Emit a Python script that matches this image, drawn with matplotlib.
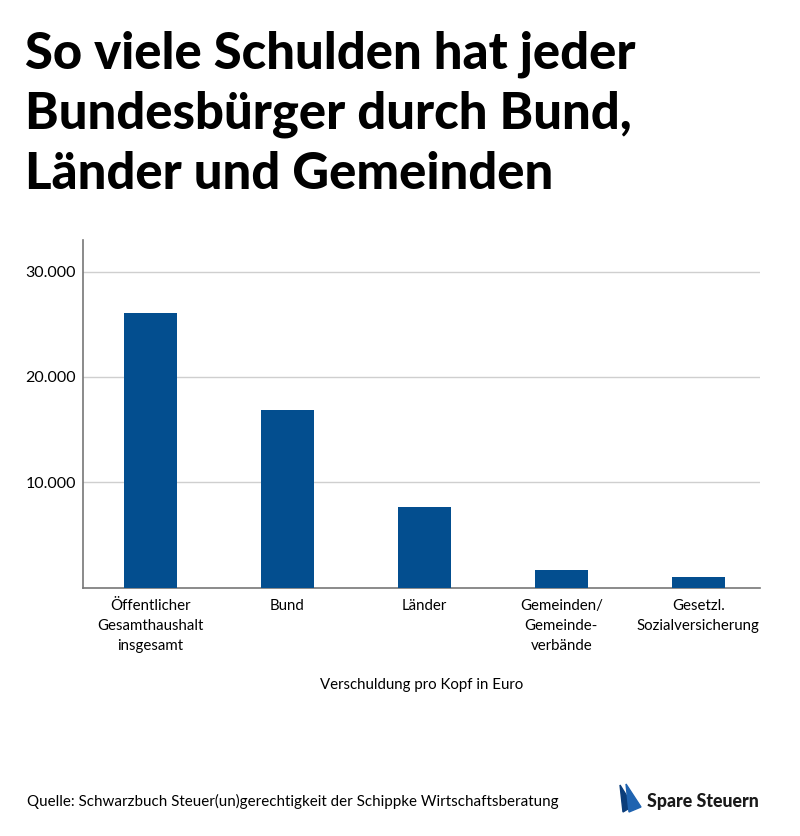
import matplotlib
matplotlib.use("Agg")
import matplotlib.pyplot as plt
from matplotlib.patches import Polygon

# Daten (Verschuldung pro Kopf in Euro)
kategorien = ["Öffentlicher\nGesamthaushalt\ninsgesamt", "Bund", "Länder",
              "Gemeinden/\nGemeinde-\nverbände", "Gesetzl.\nSozialversicherung"]
werte = [26100, 16850, 7650, 1700, 1000]
y_ticks = [10000, 20000, 30000]
y_labels = ["10.000", "20.000", "30.000"]

blau = "#034e8f"
plt.rcParams['font.family'] = ['Lato', 'DejaVu Sans']

fig = plt.figure(figsize=(8, 8.36), dpi=100)
ax = fig.add_axes([0.104, 0.297, 0.846, 0.416])

x = range(len(werte))
ax.bar(x, werte, width=0.39, color=blau, zorder=3)

ax.set_xlim(-0.49, 4.45)
ax.set_ylim(0, 33000)
ax.set_yticks(y_ticks)
ax.set_yticklabels(y_labels, fontsize=11.5)
ax.set_xticks(list(x))
ax.set_xticklabels(kategorien, fontsize=10.8, linespacing=1.55)
ax.tick_params(length=0, pad=8)
ax.tick_params(axis='y', pad=5)
ax.yaxis.grid(True, color="#cfcfcf", linewidth=1, zorder=0)

for s in ["top", "right"]:
    ax.spines[s].set_visible(False)
for s in ["left", "bottom"]:
    ax.spines[s].set_color("#777777")
    ax.spines[s].set_linewidth(1.2)

ax.set_xlabel("Verschuldung pro Kopf in Euro", fontsize=10.8, labelpad=18)

# Titel
titel = ["So viele Schulden hat jeder", "Bundesbürger durch Bund,", "Länder und Gemeinden"]
for i, zeile in enumerate(titel):
    fig.text(25 / 800, 1 - (68 + 60.5 * i) / 836, zeile, fontsize=36.5,
             fontweight="black", ha="left", va="baseline")

# Quelle
fig.text(27 / 800, 1 - 806 / 836,
         "Quelle: Schwarzbuch Steuer(un)gerechtigkeit der Schippke Wirtschaftsberatung",
         fontsize=10.9, ha="left", va="baseline")

# Logo
segel1 = [(620, 785), (633, 806), (623, 812)]
segel2 = [(626, 784), (641, 807), (629, 812)]
for pts, c in [(segel1, "#0b3d7a"), (segel2, "#1f63b0")]:
    fig.patches.append(Polygon([(px / 800, 1 - py / 836) for px, py in pts],
                               closed=True, transform=fig.transFigure,
                               color=c, zorder=5))
fig.text(647 / 800, 1 - 807 / 836, "Spare Steuern", fontsize=12.8,
         fontweight="black", color="#1a1a1a", ha="left", va="baseline")

fig.savefig("out.png", dpi=100)
